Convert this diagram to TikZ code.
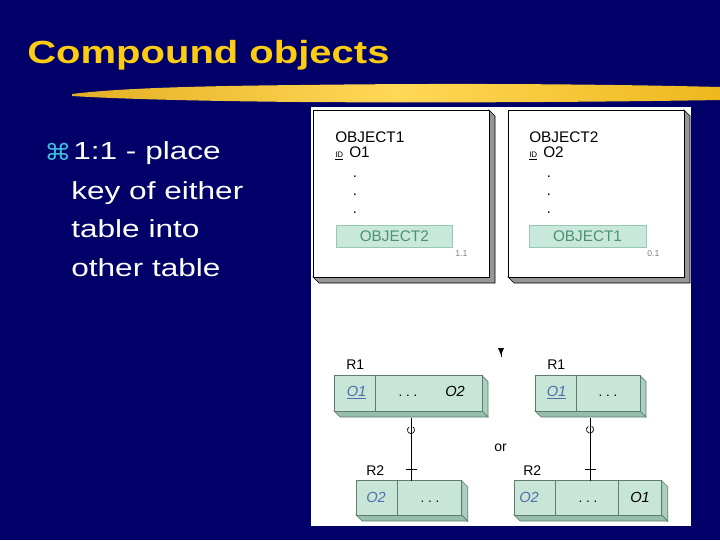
\documentclass[tikz,border=0pt]{standalone}
\usepackage{fontspec}
\setmainfont{Liberation Sans}
\newfontfamily\symfont{DejaVu Sans}
\usetikzlibrary{fit}
\definecolor{navy}{RGB}{0,0,104}
\definecolor{titleyellow}{RGB}{252,204,16}
\definecolor{bulletcyan}{RGB}{60,190,220}
\definecolor{boxfill}{RGB}{200,230,216}
\definecolor{sidefill}{RGB}{172,208,192}
\definecolor{botfill}{RGB}{150,190,172}
\definecolor{edge}{RGB}{95,125,110}
\definecolor{gboxfill}{RGB}{200,232,220}
\definecolor{gboxedge}{RGB}{150,200,180}
\definecolor{gtext}{RGB}{75,145,115}
\definecolor{keyblue}{RGB}{85,110,170}
\definecolor{shadowgray}{RGB}{150,150,150}
\definecolor{brushA}{RGB}{228,176,36}
\definecolor{brushB}{RGB}{255,216,86}
\definecolor{brushC}{RGB}{238,184,30}
\newcommand\erbox[5]{%
  \filldraw[fill=sidefill, draw=edge, line width=0.5pt] (#4,#3) -- (#4+6,#3+6) -- (#4+6,#5+6) -- (#4,#5) -- cycle;
  \filldraw[fill=botfill, draw=edge, line width=0.5pt] (#2,#5) -- (#4,#5) -- (#4+6,#5+6) -- (#2+6,#5+6) -- cycle;
  \node[fit={(#2,#3) (#4,#5)}, inner sep=0pt, draw=edge, fill=boxfill, line width=0.5pt] (#1) {};
}
\newcommand\shadowbox[5]{%
  \filldraw[fill=shadowgray, draw=black, line width=0.5pt] (#4,#3) -- (#4+6,#3+6) -- (#4+6,#5+6) -- (#2+6,#5+6) -- (#2,#5) -- (#4,#5) -- cycle;
  \node[fit={(#2,#3) (#4,#5)}, inner sep=0pt, draw=black, fill=white, line width=0.6pt] (#1) {};
}
\begin{document}
\begin{tikzpicture}[x=0.75pt,y=-0.75pt,
  title/.style={anchor=base west, inner sep=0pt, text=titleyellow, xscale=1.25,
    font=\fontsize{24}{28}\selectfont\bfseries},
  body/.style={anchor=base west, inner sep=0pt, text=white, xscale=1.28,
    font=\fontsize{18.5}{22}\selectfont},
  bul/.style={anchor=base west, inner sep=0pt, text=bulletcyan, xscale=1.2,
    font=\fontsize{17}{20}\symfont},
  objtxt/.style={anchor=base west, inner sep=0pt, font=\fontsize{11.5}{13}\selectfont},
  idtxt/.style={anchor=base west, inner sep=0pt, font=\fontsize{6}{7}\selectfont},
  dottxt/.style={anchor=base, inner sep=0pt, font=\fontsize{11}{13}\selectfont},
  gbox/.style={inner sep=0pt, fill=gboxfill, draw=gboxedge, line width=0.4pt},
  gtxt/.style={anchor=base, inner sep=0pt, text=gtext, font=\fontsize{11.5}{13}\selectfont},
  card/.style={anchor=base west, inner sep=0pt, text=gray, font=\fontsize{6.5}{8}\selectfont},
  rlbl/.style={anchor=base west, inner sep=0pt, font=\fontsize{10.5}{12}\selectfont},
  keytxt/.style={anchor=base west, inner sep=0pt, text=keyblue, font=\fontsize{11}{13}\selectfont\itshape},
  attrtxt/.style={anchor=base west, inner sep=0pt, font=\fontsize{11}{13}\selectfont\itshape},
  ell/.style={anchor=base, inner sep=0pt, font=\fontsize{10}{12}\selectfont},
  conn/.style={draw=black, line width=0.7pt}
]
\useasboundingbox (0,0) rectangle (720,540);
\fill[navy] (0,0) rectangle (720,540);

% title and brush stroke
\node[title] (ttl) at (27,63) {Compound objects};
\shade[left color=brushA, right color=brushC, middle color=brushB]
  (72,94) .. controls (120,88) and (200,86) .. (300,85)
  .. controls (450,83) and (600,84) .. (720,87) -- (720,100)
  .. controls (600,102) and (450,103) .. (300,102)
  .. controls (200,101) and (120,99) .. (72,96) -- cycle;

% bullet text
\node[bul] (bu) at (44,160) {⌘};
\node[body] (b1) at (73,159.3) {1:1 - place};
\node[body] (b2) at (71,199) {key of either};
\node[body] (b3) at (71,237.5) {table into};
\node[body] (b4) at (71,276) {other table};

% white panel
\node[fit={(311,107) (691,526)}, inner sep=0pt, fill=white] (panel) {};

% top boxes
\shadowbox{objA}{313}{110}{489}{277}
\node[objtxt] (oa1) at (335,142.7) {OBJECT1};
\node[idtxt] (oa2) at (335,157) {\underline{ID}};
\node[objtxt] (oa3) at (349,157) {O1};
\node[dottxt] (oa4) at (355,177) {.};
\node[dottxt] (oa5) at (355,195) {.};
\node[dottxt] (oa6) at (355,213) {.};
\node[gbox, fit={(336,225) (452.7,247.7)}] (ga) {};
\node[gtxt] (gat) at (394.3,241.5) {OBJECT2};
\node[card] (ca) at (455,256.5) {1.1};

\shadowbox{objB}{508}{110}{684}{277}
\node[objtxt] (ob1) at (529,142.7) {OBJECT2};
\node[idtxt] (ob2) at (529,157) {\underline{ID}};
\node[objtxt] (ob3) at (543,157) {O2};
\node[dottxt] (ob4) at (549,177) {.};
\node[dottxt] (ob5) at (549,195) {.};
\node[dottxt] (ob6) at (549,213) {.};
\node[gbox, fit={(529,225) (646,247.7)}] (gb) {};
\node[gtxt] (gbt) at (587.5,241.5) {OBJECT1};
\node[card] (cb) at (647,256.5) {0.1};

% small arrow mark
\fill[black] (498,348) -- (504,348) -- (501,355) -- cycle;
\draw[black, line width=0.6pt] (501,352) -- (501,357);

% lower left: R1 / R2
\node[rlbl] (r1la) at (346,369) {R1};
\erbox{r1L}{334}{375.7}{482}{411}
\draw[edge, line width=0.5pt] (375.7,375.7) -- (375.7,411);
\node[keytxt] (k1) at (346.5,396.7) {\underline{O1}};
\node[ell] (e1) at (408,396.7) {.\ .\ .};
\node[attrtxt] (a1) at (445,396.7) {O2};

\node[rlbl] (r2la) at (366,475.7) {R2};
\erbox{r2L}{356}{480.7}{461.7}{515}
\draw[edge, line width=0.5pt] (397.7,480.7) -- (397.7,515);
\node[keytxt] (k2) at (366,502.7) {O2};
\node[ell] (e2) at (430,502.7) {.\ .\ .};

\coordinate (lt) at (411,418);
\coordinate (lb) at (411,480.7);
\draw[conn] (lt) -- (lb);
\draw[black, line width=0.5pt] (411,430) ++(120:2.7pt) arc[start angle=120, end angle=420, radius=2.7pt];
\draw[black, line width=0.6pt] (405.5,469.3) -- (416.5,469.3);

\node[rlbl] (orl) at (494,451.7) {or};

% lower right
\node[rlbl] (r1ra) at (547,369) {R1};
\erbox{r1R}{535}{375.7}{640}{411}
\draw[edge, line width=0.5pt] (576.7,375.7) -- (576.7,411);
\node[keytxt] (k3) at (546.5,396.7) {\underline{O1}};
\node[ell] (e3) at (608,396.7) {.\ .\ .};

\node[rlbl] (r2ra) at (523,475.7) {R2};
\erbox{r2R}{514}{480.7}{661.7}{515}
\draw[edge, line width=0.5pt] (555.7,480.7) -- (555.7,515);
\draw[edge, line width=0.5pt] (618.3,480.7) -- (618.3,515);
\node[keytxt] (k4) at (519,502.7) {O2};
\node[ell] (e4) at (588,502.7) {.\ .\ .};
\node[attrtxt] (a4) at (630,502.7) {O1};

\coordinate (rt) at (590,418);
\coordinate (rb) at (590,480.7);
\draw[conn] (rt) -- (rb);
\draw[black, line width=0.5pt] (590,429.5) ++(120:2.7pt) arc[start angle=120, end angle=420, radius=2.7pt];
\draw[black, line width=0.6pt] (584.5,469.3) -- (595.5,469.3);
\end{tikzpicture}
\end{document}
